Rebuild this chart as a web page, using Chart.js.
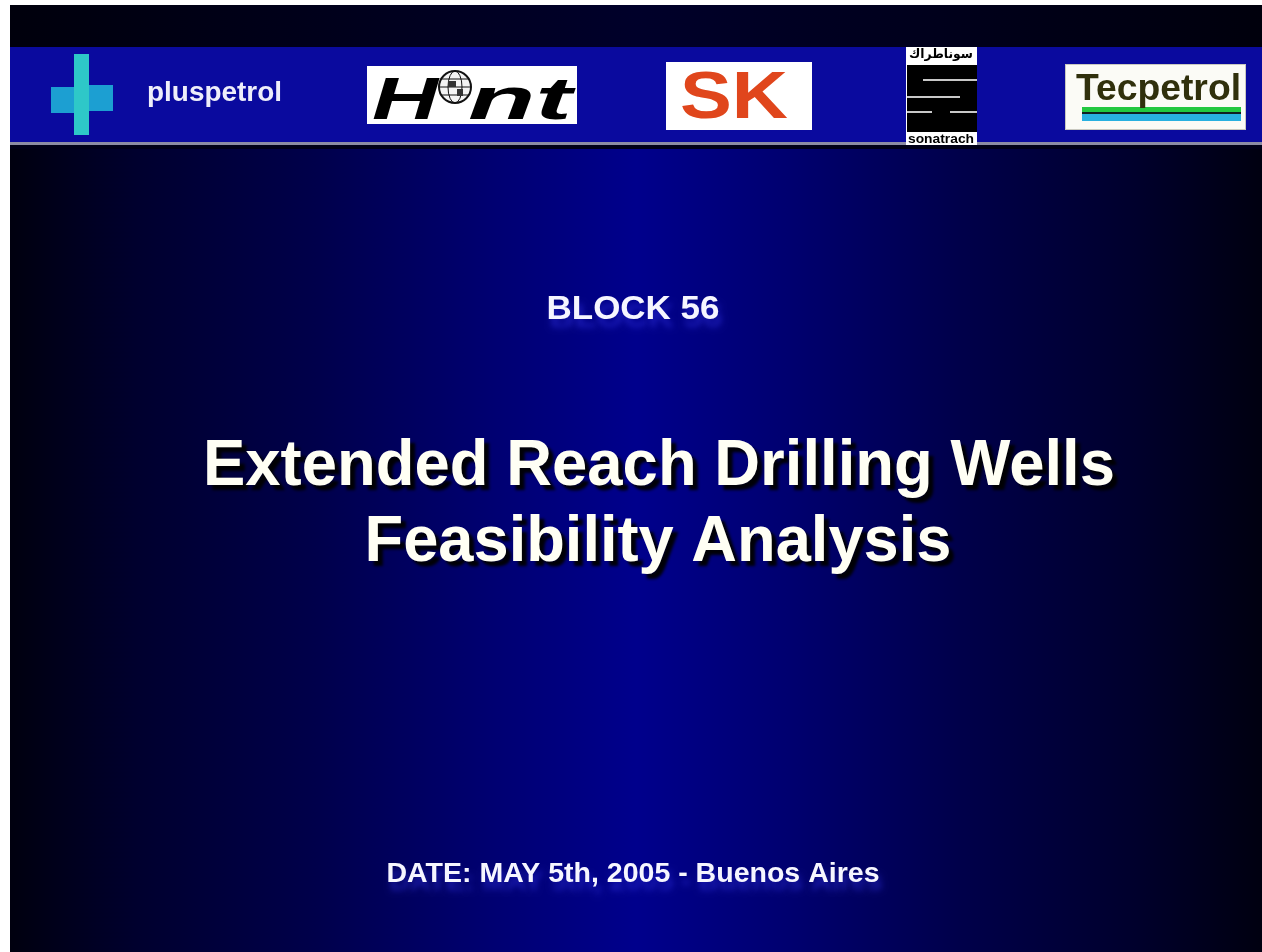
<!DOCTYPE html>
<html>
<head>
<meta charset="utf-8">
<script src="https://cdn.jsdelivr.net/npm/chart.js@4.4.1/dist/chart.umd.min.js"></script>
<style>
  html, body { margin: 0; padding: 0; background: #ffffff; overflow: hidden; }
  #slide { position: absolute; left: 10px; top: 5px; width: 1252px; height: 947px; }
</style>
</head>
<body>
<div id="slide"><canvas id="slideChart" width="1252" height="947"></canvas></div>
<script>
// Slide texts
const headingText = 'BLOCK 56';
const titleLines = ['Extended Reach Drilling Wells', 'Feasibility Analysis'];
const dateText = 'DATE: MAY 5th, 2005 - Buenos Aires';
const partnerNames = ['pluspetrol', 'Hunt', 'SK', 'sonatrach', 'Tecpetrol'];
const sonatrachArabic = 'سوناطراك';

const FONT = '"Liberation Sans", Arial, sans-serif';

// Draw text centred (or left aligned) and squeezed to a given width
function fitText(ctx, text, x, y, width, font, align) {
  ctx.save();
  ctx.font = font;
  const w = ctx.measureText(text).width;
  const sx = width / w;
  ctx.translate(x, y);
  ctx.scale(sx, 1);
  ctx.textAlign = align || 'center';
  ctx.textBaseline = 'alphabetic';
  ctx.fillText(text, 0, 0);
  ctx.restore();
}

function drawBackground(ctx, w, h) {
  // body: dark edges, brighter blue in the middle
  const g = ctx.createLinearGradient(0, 0, w, 0);
  g.addColorStop(0, '#00000f');
  g.addColorStop(0.1, '#00002e');
  g.addColorStop(0.24, '#00004a');
  g.addColorStop(0.38, '#000070');
  g.addColorStop(0.5, '#00008c');
  g.addColorStop(0.62, '#000070');
  g.addColorStop(0.76, '#00004a');
  g.addColorStop(0.9, '#00002c');
  g.addColorStop(1, '#000010');
  ctx.fillStyle = g;
  ctx.fillRect(0, 0, w, h);

  // top strip
  const t = ctx.createLinearGradient(0, 0, w, 0);
  t.addColorStop(0, '#00000c');
  t.addColorStop(0.5, '#00002a');
  t.addColorStop(1, '#00000c');
  ctx.fillStyle = t;
  ctx.fillRect(0, 0, w, 42);

  // header band
  ctx.fillStyle = '#0a0a9e';
  ctx.fillRect(0, 42, w, 95);
  // grey rule under the band
  ctx.fillStyle = '#8c8ca4';
  ctx.fillRect(0, 137, w, 3);
  ctx.fillStyle = '#000018';
  ctx.fillRect(0, 140, w, 4);
}

function drawLogos(ctx) {
  // pluspetrol cross
  ctx.fillStyle = '#1c9fd2';
  ctx.fillRect(41, 82, 24, 26);
  ctx.fillRect(79, 80, 24, 26);
  ctx.fillStyle = '#2ec8c8';
  ctx.fillRect(64, 49, 15, 81);
  ctx.fillStyle = '#eeeefa';
  fitText(ctx, partnerNames[0], 137, 96, 135, 'bold 27px ' + FONT, 'left');

  // Hunt: H + globe + nt
  const hunt = partnerNames[1];
  ctx.fillStyle = '#ffffff';
  ctx.fillRect(357, 61, 210, 58);
  ctx.fillStyle = '#000000';
  fitText(ctx, hunt[0], 362, 114, 66, 'italic bold 60px ' + FONT, 'left');
  fitText(ctx, hunt.slice(2), 458, 114, 104, 'italic bold 60px ' + FONT, 'left');
  ctx.save();
  ctx.beginPath();
  ctx.arc(445, 82, 16, 0, Math.PI * 2);
  ctx.fillStyle = '#f4f4f4';
  ctx.fill();
  ctx.lineWidth = 2;
  ctx.strokeStyle = '#111';
  ctx.stroke();
  ctx.lineWidth = 1;
  ctx.beginPath();
  ctx.ellipse(445, 82, 7, 16, 0, 0, Math.PI * 2);
  ctx.moveTo(429, 82); ctx.lineTo(461, 82);
  ctx.moveTo(431, 74); ctx.lineTo(459, 74);
  ctx.moveTo(431, 90); ctx.lineTo(459, 90);
  ctx.stroke();
  ctx.fillStyle = '#333';
  ctx.fillRect(438, 76, 8, 6);
  ctx.fillRect(447, 84, 6, 7);
  ctx.restore();

  // SK
  ctx.fillStyle = '#ffffff';
  ctx.fillRect(656, 57, 146, 68);
  ctx.fillStyle = '#e0461c';
  fitText(ctx, partnerNames[2], 724, 113, 108, 'bold 66px ' + FONT, 'center');

  // sonatrach
  ctx.fillStyle = '#ffffff';
  ctx.fillRect(896, 42, 71, 98);
  ctx.fillStyle = '#000000';
  ctx.fillRect(897, 60, 70, 67);
  ctx.fillStyle = '#c8c8c8';
  ctx.fillRect(913, 74, 54, 2);
  ctx.fillRect(897, 91, 53, 2);
  ctx.fillRect(897, 106, 25, 2);
  ctx.fillRect(940, 106, 27, 2);
  ctx.fillStyle = '#000000';
  fitText(ctx, partnerNames[3], 931, 138, 66, 'bold 12px ' + FONT, 'center');
  fitText(ctx, sonatrachArabic, 931, 53, 64, 'bold 13px "DejaVu Sans", sans-serif', 'center');

  // Tecpetrol
  ctx.fillStyle = '#fbfbf6';
  ctx.fillRect(1055, 59, 181, 66);
  ctx.strokeStyle = '#c9c9c0';
  ctx.lineWidth = 1;
  ctx.strokeRect(1055.5, 59.5, 180, 65);
  ctx.fillStyle = '#22c840';
  ctx.fillRect(1072, 102, 159, 5);
  ctx.fillStyle = '#102020';
  ctx.fillRect(1072, 107, 159, 2);
  ctx.fillStyle = '#28b0e0';
  ctx.fillRect(1072, 109, 159, 7);
  ctx.fillStyle = '#30300c';
  fitText(ctx, partnerNames[4], 1066, 95, 165, 'bold 37px ' + FONT, 'left');
}

function drawTexts(ctx) {
  // heading and date with a soft blue shadow
  ctx.save();
  ctx.shadowColor = 'rgba(45, 45, 220, 0.6)';
  ctx.shadowOffsetX = 3;
  ctx.shadowOffsetY = 8;
  ctx.shadowBlur = 6;
  ctx.fillStyle = '#f6f6ff';
  fitText(ctx, headingText, 623, 314, 173, 'bold 33px ' + FONT, 'center');
  fitText(ctx, dateText, 623, 877, 493, 'bold 28px ' + FONT, 'center');
  ctx.restore();

  // main title with black drop shadow
  ctx.save();
  ctx.shadowColor = 'rgba(0, 0, 0, 0.95)';
  ctx.shadowOffsetX = 5;
  ctx.shadowOffsetY = 5;
  ctx.shadowBlur = 3;
  ctx.fillStyle = '#fffff4';
  const centres = [649, 648];
  const widths = [912, 587];
  const baselines = [480, 556];
  titleLines.forEach((line, i) => {
    fitText(ctx, line, centres[i], baselines[i], widths[i], 'bold 64px ' + FONT, 'center');
  });
  ctx.restore();
}

const slidePlugin = {
  id: 'slide',
  beforeDraw(chart) {
    const ctx = chart.ctx;
    ctx.save();
    drawBackground(ctx, chart.width, chart.height);
    drawLogos(ctx);
    drawTexts(ctx);
    ctx.restore();
  }
};

new Chart(document.getElementById('slideChart'), {
  type: 'bar',
  data: { labels: [], datasets: [] },
  options: {
    responsive: false,
    animation: false,
    events: [],
    layout: { padding: 0 },
    plugins: {
      legend: { display: false },
      tooltip: { enabled: false },
      title: { display: false }
    },
    scales: {
      x: { display: false },
      y: { display: false }
    }
  },
  plugins: [slidePlugin]
});
</script>
</body>
</html>
